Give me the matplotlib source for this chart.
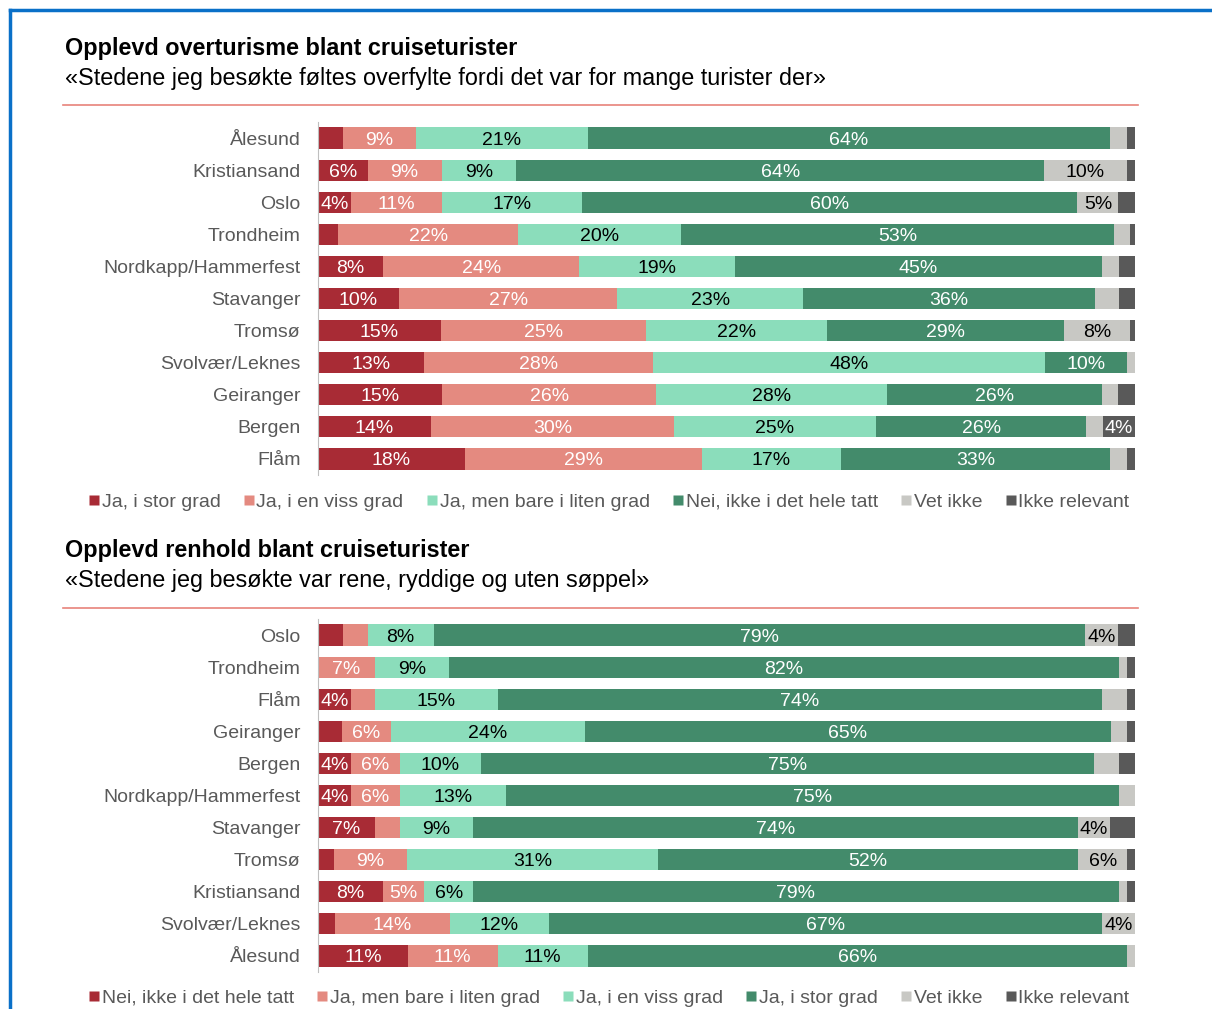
import matplotlib.pyplot as plt
from matplotlib.lines import Line2D

plt.rcParams['font.family'] = ['Liberation Sans', 'DejaVu Sans']

# chart 1: overtourism
steder1 = ['Ålesund', 'Kristiansand', 'Oslo', 'Trondheim', 'Nordkapp/Hammerfest',
           'Stavanger', 'Tromsø', 'Svolvær/Leknes', 'Geiranger', 'Bergen', 'Flåm']
stor1 = [3, 6, 4, 2.5, 8, 10, 15, 13, 15, 14, 18]
viss1 = [9, 9, 11, 22, 24, 27, 25, 28, 26, 30, 29]
liten1 = [21, 9, 17, 20, 19, 23, 22, 48, 28, 25, 17]
nei1 = [64, 64, 60, 53, 45, 36, 29, 10, 26, 26, 33]
vet1 = [2, 10, 5, 2, 2, 3, 8, 1, 2, 2, 2]
irr1 = [1, 1, 2, 0.6, 2, 2, 0.6, 0, 2, 4, 1]
serier1 = ['Ja, i stor grad', 'Ja, i en viss grad', 'Ja, men bare i liten grad',
           'Nei, ikke i det hele tatt', 'Vet ikke', 'Ikke relevant']

# chart 2: cleanliness
steder2 = ['Oslo', 'Trondheim', 'Flåm', 'Geiranger', 'Bergen', 'Nordkapp/Hammerfest',
           'Stavanger', 'Tromsø', 'Kristiansand', 'Svolvær/Leknes', 'Ålesund']
nei2 = [3, 0, 4, 3, 4, 4, 7, 2, 8, 2, 11]
liten2 = [3, 7, 3, 6, 6, 6, 3, 9, 5, 14, 11]
viss2 = [8, 9, 15, 24, 10, 13, 9, 31, 6, 12, 11]
stor2 = [79, 82, 74, 65, 75, 75, 74, 52, 79, 67, 66]
vet2 = [4, 1, 3, 2, 3, 2, 4, 6, 1, 4, 1]
irr2 = [2, 1, 1, 1, 2, 0, 3, 1, 1, 0, 0]
serier2 = ['Nei, ikke i det hele tatt', 'Ja, men bare i liten grad', 'Ja, i en viss grad',
           'Ja, i stor grad', 'Vet ikke', 'Ikke relevant']

farger = ['#A82B35', '#E48A80', '#8BDDBB', '#438B6B', '#C8C8C4', '#595959']
tekstfarger = ['white', 'white', 'black', 'white', 'black', 'white']

W, H = 1212, 1009
fig = plt.figure(figsize=(W / 100, H / 100), dpi=100)


def px_axes(x0, y0, x1, y1):
    return fig.add_axes([x0 / W, 1 - y1 / H, (x1 - x0) / W, (y1 - y0) / H])


def tegn(ax, steder, data):
    # 100 % stacked: scale each row by its total
    totaler = [sum(rad) for rad in zip(*data)]
    venstre = [0] * len(steder)
    for i, verdier in enumerate(data):
        bredder = [v / t * 100 for v, t in zip(verdier, totaler)]
        ax.barh(range(len(steder)), bredder, left=venstre, height=0.66,
                color=farger[i], edgecolor='none')
        for j, v in enumerate(verdier):
            if v >= 4:
                ax.text(venstre[j] + bredder[j] / 2, j, f'{round(v)}%', ha='center',
                        va='center_baseline', color=tekstfarger[i], fontsize=14)
        venstre = [a + b for a, b in zip(venstre, bredder)]
    ax.set_xlim(0, 100)
    ax.set_ylim(len(steder) - 0.5, -0.5)
    ax.set_yticks(range(len(steder)))
    ax.set_yticklabels(steder, fontsize=14, color='#595959')
    ax.tick_params(axis='y', length=0, pad=12.5)
    ax.set_xticks([])
    for s in ['top', 'right', 'bottom']:
        ax.spines[s].set_visible(False)
    ax.spines['left'].set_color('#BFBFBF')


def legende(serier, y):
    handles = [Line2D([], [], marker='s', linestyle='none', markersize=6.5,
                      markerfacecolor=c, markeredgecolor='none') for c in farger]
    fig.legend(handles, serier, ncol=6, loc='center left', bbox_to_anchor=(89 / W, 1 - y / H),
               frameon=False, fontsize=14, handlelength=0.5, handletextpad=0.15,
               columnspacing=1.2, labelcolor='#595959', borderpad=0, borderaxespad=0)


ax1 = px_axes(318, 122, 1135, 475)
tegn(ax1, steder1, [stor1, viss1, liten1, nei1, vet1, irr1])
ax2 = px_axes(318, 619, 1135, 972)
tegn(ax2, steder2, [nei2, liten2, viss2, stor2, vet2, irr2])

legende(serier1, 502)
legende(serier2, 998)

fig.text(65 / W, 1 - 49 / H, 'Opplevd overturisme blant cruiseturister',
         fontsize=16.8, fontweight='bold', va='center')
fig.text(65 / W, 1 - 78 / H, '«Stedene jeg besøkte føltes overfylte fordi det var for mange turister der»',
         fontsize=16.8, va='center')
fig.text(65 / W, 1 - 551 / H, 'Opplevd renhold blant cruiseturister',
         fontsize=16.8, fontweight='bold', va='center')
fig.text(65 / W, 1 - 581 / H, '«Stedene jeg besøkte var rene, ryddige og uten søppel»',
         fontsize=16.8, va='center')

# red divider lines and blue frame
fig.add_artist(Line2D([63 / W, 1138 / W], [1 - 105 / H] * 2, color='#E8837A', lw=1.2))
fig.add_artist(Line2D([63 / W, 1138 / W], [1 - 608 / H] * 2, color='#E8837A', lw=1.2))
fig.add_artist(Line2D([10 / W, 1], [1 - 10 / H] * 2, color='#0A70C8', lw=2.5))
fig.add_artist(Line2D([10 / W] * 2, [0, 1 - 10 / H], color='#0A70C8', lw=2.5))

fig.savefig('out.png', dpi=100)
